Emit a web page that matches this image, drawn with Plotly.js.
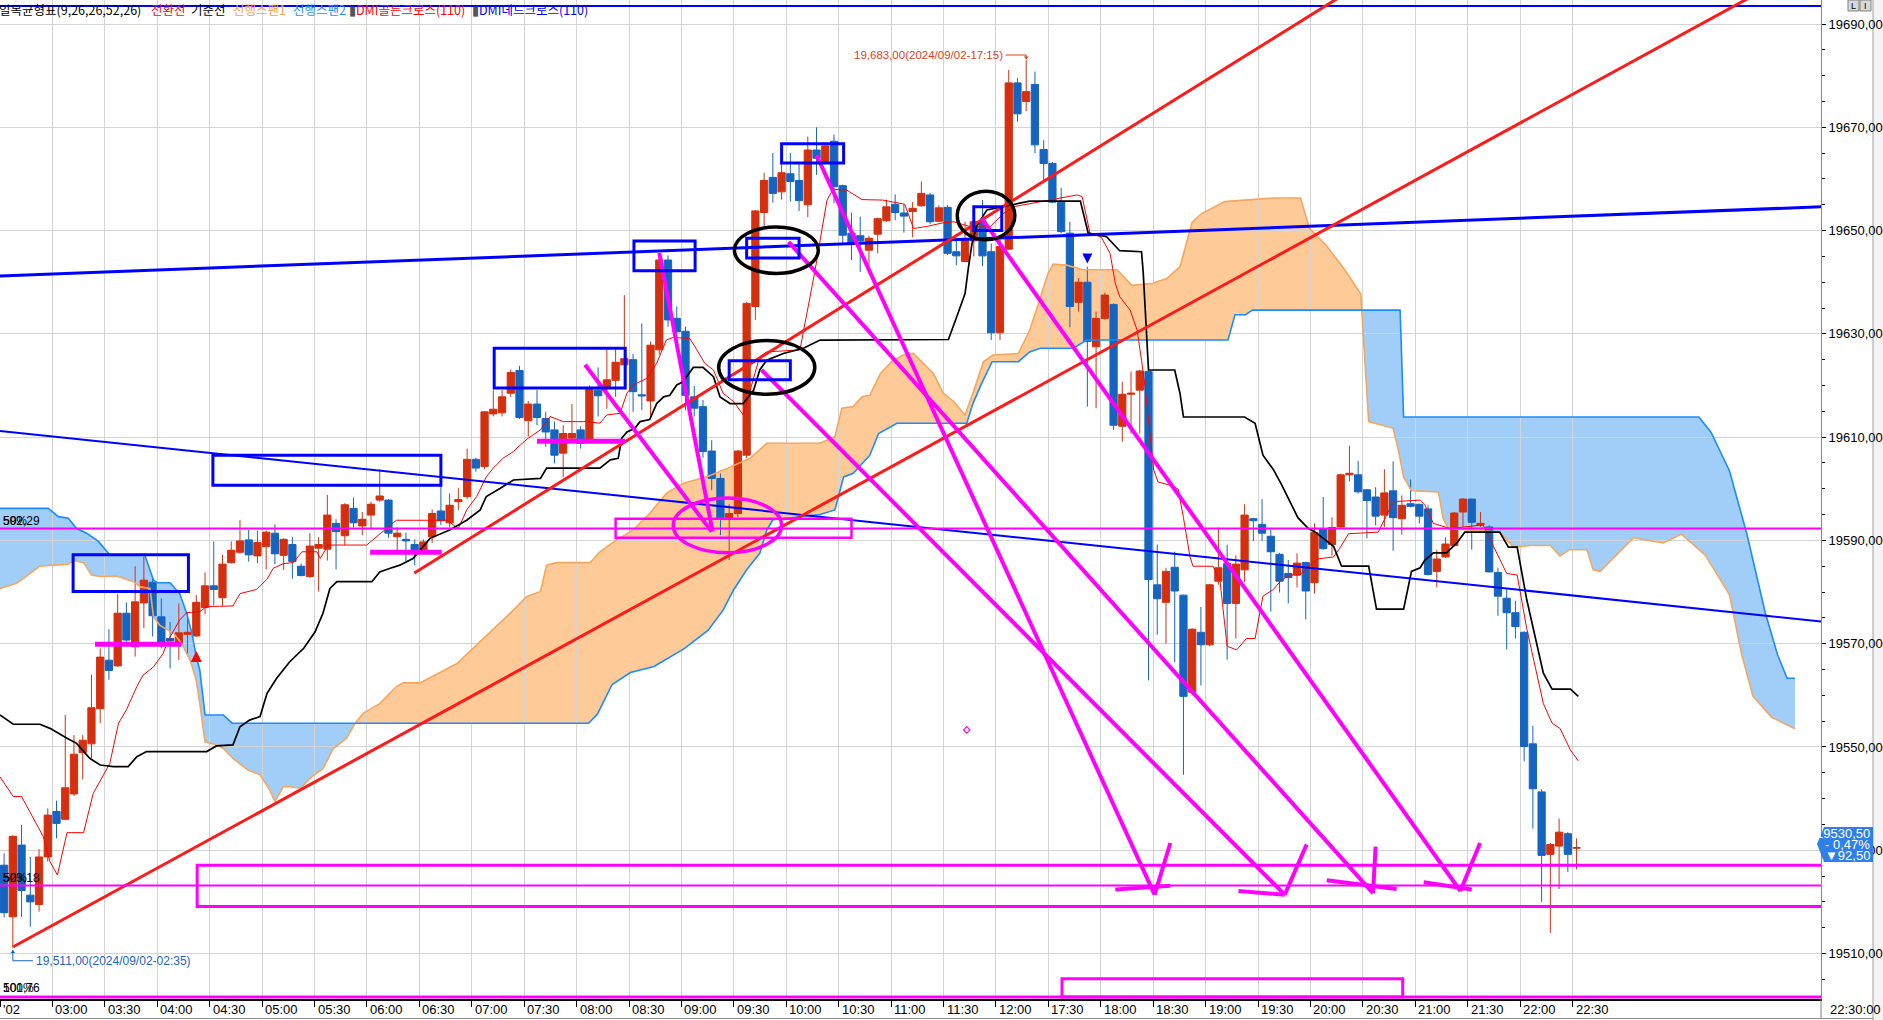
<!DOCTYPE html>
<html><head><meta charset="utf-8">
<script src="https://cdn.plot.ly/plotly-3.0.1.min.js"></script>
<style>html,body{margin:0;padding:0;background:#fff;overflow:hidden}#chart{width:1883px;height:1020px}</style>
</head><body><div id="chart"></div>
<script>
// ================= DATA (5-minute candles, index 0 = 02:30, 117 = 17:15, 180 = 22:30) =================
const candleOpen = [19527.1,19517.1,19531.0,19521.3,19519.5,19528.7,19537.5,19536.0,19540.9,19548.9,19550.6,19557.4,19566.8,19565.7,19575.9,19569.4,19577.9,19581.9,19575.2,19571.0,
19569.9,19571.8,19571.5,19577.0,19581.2,19578.9,19585.7,19587.7,19590.1,19587.0,19588.8,19591.4,19587.1,19589.2,19585.0,19583.0,19588.5,19588.3,19593.3,19590.9,
19596.2,19592.8,19594.9,19597.8,19597.8,19590.7,19590.2,19589.2,19588.2,19590.7,19595.7,19593.4,19597.5,19598.5,19605.7,19604.3,19614.5,19614.7,19618.5,19622.9,
19613.2,19616.4,19613.6,19611.4,19606.9,19609.8,19611.4,19609.6,19619.1,19619.8,19621.0,19624.0,19625.0,19618.2,19617.0,19626.9,19644.3,19633.0,19630.5,19617.8,
19615.9,19607.3,19602.0,19594.3,19595.2,19606.5,19635.3,19653.5,19660.3,19657.5,19661.0,19659.7,19655.0,19665.6,19663.3,19667.3,19658.7,19649.5,19649.0,19646.2,
19649.3,19651.9,19655.1,19653.4,19653.7,19654.8,19656.9,19651.8,19654.5,19645.9,19644.0,19648.0,19651.7,19645.9,19630.2,19646.4,19678.6,19675.0,19678.3,19665.7,
19663.0,19655.5,19649.5,19636.1,19640.0,19627.5,19633.0,19635.7,19612.1,19618.3,19619.1,19622.7,19581.4,19578.0,19584.8,19579.4,19560.6,19572.2,19569.8,19582.1,
19585.5,19577.8,19584.3,19594.2,19593.1,19590.8,19587.3,19583.6,19583.3,19585.7,19581.8,19592.2,19589.2,19592.6,19602.7,19602.7,19599.8,19598.4,19594.9,19599.6,
19594.2,19597.1,19597.0,19596.1,19584.0,19586.8,19589.0,19595.5,19598.0,19593.0,19592.6,19583.8,19578.8,19576.0,19572.2,19550.6,19541.3,19529.2,19530.8,19533.2,19530.4];
const candleHigh = [19529.4,19532.9,19534.9,19528.7,19530.2,19538.1,19539.6,19556.2,19552.3,19552.3,19564.0,19569.1,19572.8,19579.6,19578.0,19585.0,19586.8,19583.0,19578.8,19574.2,
19577.8,19575.9,19579.4,19583.8,19589.8,19587.2,19589.8,19593.9,19592.0,19591.9,19591.9,19593.1,19590.4,19590.7,19585.5,19591.4,19590.6,19598.8,19594.1,19597.2,
19598.3,19595.5,19597.5,19603.8,19598.0,19592.5,19591.5,19590.2,19590.2,19596.0,19601.0,19599.1,19600.1,19607.8,19606.0,19615.0,19619.1,19619.1,19623.1,19623.8,
19617.0,19619.1,19614.9,19613.0,19612.3,19616.4,19612.1,19620.0,19623.5,19627.0,19627.0,19637.5,19626.1,19632.0,19628.5,19645.0,19645.2,19635.3,19631.4,19619.9,
19617.2,19609.4,19603.0,19597.0,19607.5,19636.2,19654.0,19661.2,19665.0,19663.0,19665.0,19663.0,19668.2,19670.0,19667.0,19668.6,19658.9,19653.5,19652.7,19649.0,
19652.5,19656.0,19657.0,19655.1,19655.5,19659.5,19657.3,19654.9,19654.9,19648.2,19651.7,19652.0,19655.9,19647.5,19648.8,19681.1,19679.5,19683.0,19680.8,19667.5,
19663.3,19658.3,19651.7,19640.8,19643.0,19634.3,19638.0,19635.9,19620.7,19622.7,19623.0,19623.5,19589.2,19584.7,19587.8,19579.5,19573.0,19577.1,19581.6,19592.5,
19589.2,19587.1,19597.0,19594.4,19598.0,19592.3,19587.6,19586.2,19587.5,19585.9,19593.3,19598.4,19594.5,19602.9,19608.3,19605.4,19599.9,19600.3,19603.8,19605.3,
19598.7,19601.8,19597.1,19596.8,19588.2,19590.6,19595.5,19598.2,19598.1,19595.5,19592.9,19584.7,19580.5,19578.3,19572.4,19554.1,19541.8,19531.4,19536.1,19533.5,19532.3];
const candleLow = [19517.0,19511.0,19517.1,19515.2,19518.1,19527.8,19532.3,19535.8,19540.5,19543.7,19547.8,19554.6,19563.0,19565.5,19570.4,19567.5,19573.0,19571.4,19569.1,19565.2,
19566.8,19567.5,19571.3,19575.7,19577.4,19577.3,19585.5,19587.4,19585.9,19585.6,19584.4,19585.4,19584.3,19582.6,19583.0,19582.8,19580.1,19586.1,19584.4,19589.1,
19592.5,19591.0,19592.1,19597.5,19590.5,19588.1,19585.9,19585.2,19587.5,19589.5,19593.0,19592.5,19595.9,19598.0,19603.3,19603.8,19614.0,19614.0,19617.8,19613.5,
19610.1,19612.3,19608.1,19604.9,19602.3,19609.1,19607.8,19609.0,19614.0,19615.5,19617.8,19620.0,19614.9,19615.2,19614.0,19626.0,19631.4,19630.0,19615.2,19614.0,
19606.0,19599.7,19591.0,19586.2,19594.5,19605.9,19632.7,19650.7,19655.4,19656.0,19655.6,19653.8,19652.6,19660.8,19663.0,19655.3,19647.2,19644.3,19642.0,19643.0,
19645.6,19651.7,19652.0,19649.6,19648.7,19654.6,19651.3,19651.7,19645.3,19643.3,19644.0,19645.0,19643.1,19628.8,19628.8,19646.3,19671.1,19673.1,19665.0,19659.8,
19655.3,19649.5,19631.3,19634.3,19615.9,19615.6,19632.7,19611.4,19609.1,19610.7,19610.7,19562.9,19571.7,19570.0,19566.4,19544.6,19560.0,19561.9,19569.5,19581.4,
19566.9,19571.0,19581.9,19589.9,19589.9,19576.2,19579.9,19577.8,19580.9,19574.7,19579.7,19588.2,19587.1,19592.5,19601.4,19599.1,19590.4,19592.9,19592.6,19588.0,
19591.1,19596.4,19593.3,19583.2,19580.9,19586.6,19588.8,19592.6,19588.2,19592.6,19583.8,19575.4,19568.9,19571.0,19547.2,19534.2,19520.0,19514.0,19522.5,19525.8,19526.3];
const candleClose = [19517.9,19532.7,19522.2,19520.0,19528.7,19536.8,19535.2,19542.1,19548.6,19551.3,19557.6,19567.4,19564.8,19575.9,19570.7,19578.1,19582.3,19575.4,19570.3,19570.5,
19572.1,19572.2,19578.0,19581.2,19580.5,19585.4,19588.1,19589.9,19587.2,19589.6,19591.6,19587.4,19590.2,19585.9,19583.2,19588.9,19589.2,19594.9,19591.7,19596.9,
19593.4,19594.1,19597.0,19598.6,19591.4,19591.4,19589.9,19588.2,19589.7,19595.2,19593.8,19596.8,19597.9,19605.7,19604.0,19614.9,19615.4,19617.8,19622.5,19613.8,
19616.4,19613.8,19611.0,19606.5,19610.7,19610.7,19608.8,19619.3,19618.0,19621.1,19624.5,19625.2,19618.8,19618.0,19627.8,19644.3,19632.7,19630.4,19618.1,19615.6,
19607.2,19602.0,19594.3,19595.2,19607.3,19635.9,19653.8,19659.7,19657.2,19661.2,19659.5,19655.8,19665.6,19664.0,19666.4,19658.5,19649.1,19647.5,19648.0,19648.5,
19652.3,19654.6,19653.5,19652.8,19654.3,19657.2,19651.7,19654.4,19645.6,19645.1,19648.3,19651.7,19645.1,19630.2,19646.9,19678.6,19672.6,19676.9,19666.6,19663.0,
19655.5,19649.8,19635.3,19640.0,19628.5,19633.0,19637.5,19612.3,19618.3,19618.5,19622.8,19582.4,19578.7,19584.0,19580.2,19559.8,19572.8,19569.8,19581.4,19584.7,
19577.8,19585.4,19594.9,19593.8,19591.4,19587.8,19582.1,19582.8,19585.6,19580.2,19591.5,19588.4,19592.5,19602.7,19603.0,19599.4,19597.7,19594.7,19599.2,19594.4,
19596.8,19596.6,19594.7,19583.4,19586.4,19589.3,19595.3,19598.0,19593.5,19593.3,19583.9,19579.2,19576.0,19573.3,19550.1,19541.9,19529.0,19531.1,19533.5,19529.2,19530.5];

// x-axis ticks (candle index of each label) and labels
const tickIndex = [0,6,12,18,24,30,36,42,48,54,60,66,72,78,84,90,96,102,108,114,120,126,132,138,144,150,156,162,168,174,180];
const tickText = ["'02","03:00","03:30","04:00","04:30","05:00","05:30","06:00","06:30","07:00","07:30","08:00","08:30","09:00","09:30","10:00","10:30","11:00","11:30","12:00","17:30","18:00","18:30","19:00","19:30","20:00","20:30","21:00","21:30","22:00","22:30"];

// Ichimoku lines (x = candle index, y = price)
const tenkanX = [-0.47,1.05,2.0,3.35,4.5,5.25,6.1,7.2,9.1,10.2,12.1,13.1,14.0,15.2,15.9,17.1,18.2,18.8,20.1,20.9,22.4,23.2,26.2,27.0,28.9,30.1,30.8,31.96,33.1,34.1,35.8,36.2,37.1,41.5,42.65,44.9,50.7,52.0,52.95,54.1,55.2,56.0,57.1,58.3,59.1,60.0,61.4,62.5,64.0,66.7,68.2,69.0,70.5,71.3,72.0,73.6,74.7,75.8,76.6,78.5,79.3,80.2,81.2,82.3,83.5,84.2,84.6,85.4,86.5,87.3,91.1,91.9,92.8,93.6,94.2,94.9,96.5,98.2,100.6,103.1,104.1,105.6,107.5,108.7,110.9,112.9,114.4,115.5,122.8,123.4,124.3,125.6,126.6,127.2,127.7,128.9,129.7,130.2,130.6,131.6,132.1,133.7,134.4,135.0,135.75,136.1,138.4,139.2,140.0,141.1,142.2,143.2,144.1,145.3,146.2,147.2,148.3,150.3,152.2,152.9,153.9,157.3,158.3,159.0,162.1,162.6,163.6,165.5,169.3,170.7,172.0,173.2,174.3,176.2,177.2,178.1,179.3,180.2];
const tenkanY = [19544.2,19540.4,19540.4,19536.2,19532.6,19527.8,19525.2,19533.4,19533.4,19541.0,19546.8,19554.6,19557.2,19561.7,19563.9,19565.5,19568.1,19570.7,19574.6,19576.0,19576.2,19577.2,19577.3,19579.7,19580.5,19582.5,19584.6,19585.5,19585.7,19587.8,19587.8,19586.5,19589.1,19589.1,19590.7,19593.9,19593.9,19592.3,19595.9,19598.5,19602.3,19604.0,19605.9,19607.2,19608.5,19609.8,19611.4,19614.0,19613.0,19613.0,19612.7,19614.3,19614.6,19618.5,19620.1,19621.4,19624.3,19628.8,19629.3,19629.1,19626.9,19624.3,19623.0,19618.5,19616.9,19615.2,19614.3,19619.1,19625.6,19626.5,19626.9,19634.0,19642.0,19650.0,19655.9,19658.0,19657.8,19656.0,19655.9,19655.1,19650.4,19650.8,19651.5,19651.7,19650.6,19650.8,19653.3,19654.6,19656.9,19656.6,19649.5,19648.7,19645.6,19639.8,19637.2,19634.6,19630.7,19624.9,19619.8,19603.6,19601.3,19600.6,19599.9,19594.4,19586.8,19585.0,19585.0,19581.9,19569.5,19568.8,19571.0,19571.0,19579.2,19580.5,19582.3,19583.3,19583.3,19586.4,19586.8,19588.5,19591.3,19591.6,19595.1,19597.5,19597.8,19597.0,19593.3,19592.3,19593.0,19588.2,19583.6,19583.3,19572.9,19558.4,19554.6,19553.6,19549.4,19547.3];
const kijunX = [-0.47,1.05,4.1,5.25,7.2,8.3,9.8,11.0,12.5,14.2,15.2,16.3,23.2,24.3,26.2,27.0,28.1,29.3,30.1,31.2,32.7,34.3,35.6,36.5,37.3,38.1,42.1,43.0,44.2,45.3,46.8,48.75,51.0,52.95,54.5,55.2,56.8,58.3,61.4,62.1,68.2,69.4,70.3,70.7,71.3,72.2,72.8,73.9,74.7,75.5,76.2,77.0,77.7,78.9,80.0,81.2,81.95,83.1,84.6,85.8,86.5,87.3,89.2,91.5,93.4,108.1,109.05,110.0,110.4,110.8,111.3,112.5,115.1,117.4,123.2,124.1,126.2,127.7,130.2,130.4,131.0,134.0,134.6,135.0,142.0,143.2,144.1,145.3,146.2,147.2,148.1,149.3,150.1,152.2,153.1,156.2,157.1,160.2,161.1,162.1,162.6,163.6,165.1,166.3,167.2,171.2,172.2,173.2,174.3,176.2,177.2,179.3,180.2];
const kijunY = [19556.2,19554.4,19554.4,19553.6,19551.7,19550.7,19547.8,19546.5,19546.2,19546.2,19548.1,19549.1,19549.1,19550.2,19550.4,19553.9,19555.2,19555.9,19560.4,19563.3,19566.5,19569.1,19572.3,19575.9,19580.7,19582.0,19582.0,19583.9,19584.6,19585.2,19586.5,19590.4,19592.0,19593.9,19595.9,19598.5,19600.1,19601.7,19602.0,19604.0,19604.0,19605.6,19605.9,19609.8,19611.0,19611.7,19613.0,19613.4,19616.5,19617.8,19618.1,19620.1,19620.7,19623.5,19623.5,19621.7,19617.8,19616.5,19616.5,19619.1,19623.0,19624.9,19626.2,19627.2,19628.8,19628.9,19633.3,19637.8,19643.0,19647.5,19650.8,19654.0,19654.9,19655.7,19655.7,19649.5,19648.8,19646.1,19645.9,19641.7,19623.0,19623.0,19618.5,19613.9,19613.9,19612.7,19606.5,19603.7,19600.9,19597.5,19594.4,19592.3,19591.6,19588.8,19585.0,19585.0,19576.7,19576.7,19584.0,19584.7,19586.1,19587.6,19587.6,19589.5,19591.6,19591.6,19588.7,19588.7,19578.5,19564.3,19561.2,19561.2,19559.8];
const span1X = [-0.47,1.44,4.1,7.35,7.9,9.1,10.0,11.0,12.9,14.8,15.6,16.7,17.1,17.8,19.4,20.3,21.3,22.0,22.4,23.0,24.3,25.1,26.2,27.95,29.3,30.4,31.0,31.96,32.7,33.9,35.2,36.5,37.7,39.2,40.2,41.1,43.0,44.9,45.7,47.6,51.8,55.9,58.3,59.8,61.4,62.1,63.3,67.1,68.2,70.1,72.0,73.9,75.8,77.7,80.4,82.7,85.4,87.3,93.4,95.1,95.9,97.2,98.2,99.1,100.3,101.6,102.9,104.1,105.4,106.4,107.5,108.7,110.0,110.9,112.1,113.2,116.1,117.4,118.4,119.5,120.1,121.6,123.5,127.4,129.1,131.5,133.1,134.6,136.0,137.0,139.7,145.3,148.4,149.4,151.4,153.5,155.3,156.0,156.2,159.0,159.6,160.2,161.1,164.2,164.7,165.3,171.2,172.8,174.7,177.0,178.1,179.2,181.2,181.9,182.7,186.5,189.9,192.0,194.7,197.5,198.9,200.2,202.3,205.0];
const span1Y = [19580.7,19581.7,19585.0,19585.4,19586.1,19585.7,19583.3,19583.0,19583.1,19582.0,19581.0,19580.7,19575.2,19573.6,19572.0,19570.1,19566.8,19562.9,19558.4,19551.0,19550.4,19549.7,19547.8,19545.5,19544.6,19541.7,19539.4,19542.3,19542.3,19542.0,19544.2,19545.8,19549.7,19551.7,19554.6,19556.5,19558.4,19561.7,19562.4,19562.4,19566.1,19572.6,19576.5,19579.1,19580.1,19585.2,19585.7,19585.7,19587.8,19590.1,19592.0,19595.2,19599.1,19601.0,19602.3,19603.9,19605.9,19608.8,19608.8,19610.1,19615.6,19615.9,19617.8,19618.1,19622.3,19624.6,19625.9,19626.2,19623.9,19622.3,19618.5,19616.9,19614.3,19618.5,19624.6,19625.9,19626.2,19630.7,19635.9,19641.7,19643.5,19643.3,19642.4,19642.4,19639.4,19639.8,19640.7,19643.0,19651.6,19653.2,19655.6,19656.3,19656.3,19650.5,19647.0,19642.3,19637.7,19617.2,19613.0,19611.7,19607.5,19602.3,19599.6,19599.4,19594.4,19592.3,19591.6,19588.7,19589.0,19589.0,19587.0,19588.2,19588.2,19584.3,19584.0,19590.5,19589.5,19591.2,19587.2,19579.5,19567.9,19559.8,19555.8,19553.5];
const span2X = [-0.47,5.06,6.2,7.35,8.3,9.45,10.8,11.7,12.1,16.1,17.1,17.5,19.0,20.1,20.9,21.5,22.0,22.4,23.0,25.1,26.1,66.9,67.9,69.6,71.7,74.4,77.9,80.6,82.3,83.5,85.0,86.5,87.3,88.0,93.4,95.1,96.1,97.2,99.1,100.1,101.4,102.2,110.2,110.9,111.9,113.1,116.1,117.4,118.6,122.4,123.9,140.1,140.9,142.1,142.9,159.8,160.2,194.0,195.4,197.5,199.5,201.6,203.0,204.1,205.0];
const span2Y = [19596.2,19596.2,19594.6,19594.3,19592.3,19591.4,19589.8,19588.1,19587.2,19587.2,19582.3,19581.8,19581.8,19579.7,19575.9,19572.0,19567.5,19564.9,19556.2,19556.2,19554.6,19554.6,19556.3,19562.1,19564.4,19565.6,19569.1,19572.6,19576.5,19580.4,19584.3,19587.5,19592.0,19594.0,19595.0,19595.9,19602.3,19603.0,19606.5,19610.7,19612.0,19612.7,19612.7,19616.5,19620.4,19624.6,19624.6,19626.5,19627.2,19627.2,19628.8,19628.8,19633.7,19633.7,19634.6,19634.6,19613.9,19613.9,19610.9,19603.5,19591.2,19576.0,19567.9,19563.3,19563.3];
const cloudBreaks = [-0.47, 40.2, 155.4, 205.0];   // where span1 and span2 cross
const cloudKinds  = ['span2Above', 'span1Above', 'span2Above'];

// drawn objects (candle index, price)
const blueBoxes = [[7.9,21.1,19580.1,19587.2],[23.9,50.0,19600.7,19606.5],[56.1,71.1,19619.5,19627.2],[72.1,79.1,19642.2,19648.0],[83.0,90.0,19621.1,19624.8],[85.0,91.0,19644.7,19648.5],[89.0,96.1,19663.1,19666.8],[111.0,114.2,19650.0,19654.6]];
const blackEllipses = [[83.6,93.2,19641.7,19650.7],[81.8,92.8,19618.3,19628.7],[109.1,115.7,19648.2,19657.6]];
const magentaEllipse = [76.6,89.0,19587.6,19598.2];
const magentaBoxes = [[70.0,97.0,19590.5,19594.2],[22.1,215,19519.1,19527.1],[121.1,160.1,19501.6,19505.1]];
const magentaLevels = [19592.29, 19523.18, 19501.6];
const magentaShort = [[10.4,20.3,19569.9],[41.9,50.1,19587.7],[61.0,71.1,19609.2]];
const magentaArrows = [[66.5,19624.0,81.0,19591.7],[75.0,19645.7,81.1,19591.7],[93.0,19664.6,131.7,19521.4],[86.7,19623.0,146.6,19521.4],[89.8,19647.8,156.7,19521.7],[111.9,19652.4,166.7,19522.1],
  [127.2,19522.4,133.5,19523.1],[131.7,19521.4,133.5,19531.4],[141.3,19522.1,146.6,19521.4],[146.6,19521.4,149.1,19531.1],[151.4,19524.2,159.4,19522.5],[156.7,19521.7,157.0,19530.7],[162.5,19523.8,168.0,19522.4],[166.7,19522.1,168.96,19531.4]];
const blueLines = [[-1,19693.5,210,19693.5,2],[-0.47,19641.2,208,19654.6,3],[-0.47,19611.2,208,19574.3,2]];
const redLines = [[1.05,19511.3,208,19702.7],[46.96,19583.7,159.8,19702.5]];
const highPoint = {i:117, v:19683.0, label:'19,683,00(2024/09/02-17:15)'};
const lowPoint  = {i:1,   v:19511.0, label:'19,511,00(2024/09/02-02:35)'};
const goldenCross = {i:22, v:19568.6};
const deadCross = {i:124, v:19643.6};
const diamondMark = {i:110.2, v:19553.3};
const lastPrice = ['19530,50','- 0,47%','\u25BC92,50'];

// ================= BUILD =================
const N = candleOpen.length;
const idx = candleOpen.map((_, k) => k);
const XR = [-0.469, 207.98], YR = [19501.19, 19694.65];
const PW = 1821, PH = 999;
const px = p => p / PW, py = p => 1 - p / PH;
const SANS = 'Liberation Sans, Arial, sans-serif';
const NARROW = 'Liberation Sans Narrow, Liberation Sans, Arial, sans-serif';
const KR = 'Noto Sans CJK KR, sans-serif';

function interp(xs, ys, x) {
  for (let k = 0; k < xs.length - 1; k++) {
    if (x >= xs[k] && x <= xs[k + 1]) { const t = (x - xs[k]) / ((xs[k + 1] - xs[k]) || 1); return ys[k] + t * (ys[k + 1] - ys[k]); }
  }
  return x < xs[0] ? ys[0] : ys[ys.length - 1];
}
function segPts(xs, ys, a, b) {
  const p = [[a, interp(xs, ys, a)]];
  for (let k = 0; k < xs.length; k++) if (xs[k] > a && xs[k] < b) p.push([xs[k], ys[k]]);
  p.push([b, interp(xs, ys, b)]);
  return p;
}
const shapes = [];
for (let s = 0; s < cloudKinds.length; s++) {
  const a = cloudBreaks[s], b = cloudBreaks[s + 1];
  const p1 = segPts(span1X, span1Y, a, b), p2 = segPts(span2X, span2Y, a, b).reverse();
  const pts = p1.concat(p2);
  const path = 'M ' + pts.map(q => q[0] + ',' + q[1]).join(' L ') + ' Z';
  shapes.push({type:'path', xref:'x', yref:'y', path, fillcolor: cloudKinds[s] === 'span2Above' ? '#a0cef9' : '#fdca98', line:{width:0}, layer:'below'});
}
blueLines.forEach(l => shapes.push({type:'line', xref:'x', yref:'y', x0:l[0], y0:l[1], x1:l[2], y1:l[3], line:{color:'#0000ff', width:l[4]}}));
redLines.forEach(l => shapes.push({type:'line', xref:'x', yref:'y', x0:l[0], y0:l[1], x1:l[2], y1:l[3], line:{color:'#ff1a1a', width:3}}));
magentaLevels.forEach((v, k) => shapes.push({type:'line', xref:'x', yref:'y', x0:XR[0]-1, x1:XR[1]+1, y0:v, y1:v, line:{color:'#ff00ff', width: k === 2 ? 3 : 2}}));
magentaShort.forEach(l => shapes.push({type:'line', xref:'x', yref:'y', x0:l[0], x1:l[1], y0:l[2], y1:l[2], line:{color:'#ff00ff', width:5}}));
magentaArrows.forEach(l => shapes.push({type:'line', xref:'x', yref:'y', x0:l[0], y0:l[1], x1:l[2], y1:l[3], line:{color:'#ff00ff', width:4}}));
blueBoxes.forEach(r => shapes.push({type:'rect', xref:'x', yref:'y', x0:r[0], x1:r[1], y0:r[2], y1:r[3], line:{color:'#0000ff', width:3}, fillcolor:'rgba(0,0,0,0)'}));
magentaBoxes.forEach((r, k) => shapes.push({type:'rect', xref:'x', yref:'y', x0:r[0], x1:r[1], y0:r[2], y1:r[3], line:{color:'#ff00ff', width: k === 0 ? 2.5 : 3}, fillcolor:'rgba(0,0,0,0)'}));
blackEllipses.forEach(r => shapes.push({type:'circle', xref:'x', yref:'y', x0:r[0], x1:r[1], y0:r[2], y1:r[3], line:{color:'#000000', width:3.5}}));
shapes.push({type:'circle', xref:'x', yref:'y', x0:magentaEllipse[0], x1:magentaEllipse[1], y0:magentaEllipse[2], y1:magentaEllipse[3], line:{color:'#ff00ff', width:3.5}});
shapes.push({type:'line', xref:'x', yref:'y', x0:highPoint.i - 2.35, x1:highPoint.i, y0:highPoint.v + 1.0, y1:highPoint.v + 1.0, line:{color:'#e0401e', width:1}});
shapes.push({type:'line', xref:'x', yref:'y', x0:highPoint.i, x1:highPoint.i, y0:highPoint.v + 1.0, y1:highPoint.v + 0.2, line:{color:'#e0401e', width:1}});
shapes.push({type:'line', xref:'x', yref:'y', x0:lowPoint.i, x1:lowPoint.i + 2.3, y0:lowPoint.v - 2.4, y1:lowPoint.v - 2.4, line:{color:'#1e64c8', width:1}});
shapes.push({type:'line', xref:'x', yref:'y', x0:lowPoint.i, x1:lowPoint.i, y0:lowPoint.v - 2.4, y1:lowPoint.v - 0.3, line:{color:'#1e64c8', width:1}});
shapes.push({type:'rect', xref:'paper', yref:'paper', x0:px(1873), x1:px(1884), y0:py(1021), y1:py(-1), fillcolor:'#f3f3f3', line:{color:'#a0a0a0', width:1}, layer:'below'});
shapes.push({type:'line', xref:'paper', yref:'paper', x0:px(1821), x1:px(1821), y0:py(999), y1:py(1019), line:{color:'#808080', width:1}});
shapes.push({type:'line', xref:'paper', yref:'paper', x0:0, x1:px(1873), y0:py(1018.5), y1:py(1018.5), line:{color:'#909090', width:1}});
shapes.push({type:'rect', xref:'paper', yref:'paper', x0:px(1848), x1:px(1859), y0:py(11), y1:py(0), fillcolor:'#d8d8d8', line:{color:'#808080', width:1}});
shapes.push({type:'rect', xref:'paper', yref:'paper', x0:px(1860), x1:px(1871), y0:py(11), y1:py(0), fillcolor:'#d8d8d8', line:{color:'#808080', width:1}});
shapes.push({type:'path', xref:'paper', yref:'paper', path:`M ${px(1817)},${py(844)} L ${px(1824)},${py(827)} L ${px(1873)},${py(827)} L ${px(1873)},${py(862)} L ${px(1824)},${py(862)} Z`, fillcolor:'#2f7fe6', line:{width:0}});

const traces = [
  {type:'scatter', x:span1X, y:span1Y, mode:'lines', line:{color:'#f7a65e', width:1.6}, hoverinfo:'skip'},
  {type:'scatter', x:span2X, y:span2Y, mode:'lines', line:{color:'#1a8cff', width:1.6}, hoverinfo:'skip'},
  {type:'candlestick', x:idx, open:candleOpen, high:candleHigh, low:candleLow, close:candleClose, whiskerwidth:0,
    increasing:{line:{color:'#d4300f', width:1}, fillcolor:'#d4300f'},
    decreasing:{line:{color:'#1565c0', width:1}, fillcolor:'#1565c0'}, hoverinfo:'skip'},
  {type:'scatter', x:tenkanX, y:tenkanY, mode:'lines', line:{color:'#ff0000', width:1}, hoverinfo:'skip'},
  {type:'scatter', x:kijunX, y:kijunY, mode:'lines', line:{color:'#000000', width:1.7}, hoverinfo:'skip'},
  {type:'scatter', x:[goldenCross.i], y:[goldenCross.v], mode:'markers', marker:{symbol:'arrow-up', size:11, color:'#ff0000', line:{width:0}}, hoverinfo:'skip'},
  {type:'scatter', x:[deadCross.i], y:[deadCross.v], mode:'markers', marker:{symbol:'arrow-down', size:10, color:'#0000ff', line:{width:0}}, hoverinfo:'skip'},
  {type:'scatter', x:[diamondMark.i], y:[diamondMark.v], mode:'markers', marker:{symbol:'diamond-open', size:5, color:'#ff00ff', line:{width:1.2}}, hoverinfo:'skip'},
  {type:'scatter', x:[highPoint.i], y:[highPoint.v + 0.5], mode:'markers', marker:{symbol:'triangle-down', size:4, color:'#e0401e'}, hoverinfo:'skip'},
  {type:'scatter', x:[lowPoint.i], y:[lowPoint.v - 0.7], mode:'markers', marker:{symbol:'triangle-up', size:4, color:'#1e64c8'}, hoverinfo:'skip'}
];

const ann = [];
tickIndex.forEach((t, k) => ann.push({xref:'x', yref:'paper', x:t - 0.35, y:py(1009), text:tickText[k], showarrow:false, xanchor:'left', yanchor:'middle', font:{family:NARROW, size:13, color:'#000'}}));
ann.push({xref:'paper', yref:'paper', x:px(1828), y:py(1009), text:'22:30:00', showarrow:false, xanchor:'left', yanchor:'middle', font:{family:NARROW, size:13, color:'#000'}});
const legendItems = [['일목균형표(9,26,26,52,26)',-2,'#000000'],['전환선',150,'#ff0000'],['기준선',190,'#000000'],['선행스팬1',232,'#f8a050'],['선행스팬2',292,'#1e90ff'],['▮',348,'#555555'],['DMI골든크로스(110)',355,'#ff0000'],['▮',471,'#555555'],['DMI데드크로스(110)',478,'#0000ff']];
legendItems.forEach(it => ann.push({xref:'paper', yref:'paper', x:px(it[1]), y:py(-1), text:it[0], showarrow:false, xanchor:'left', yanchor:'top', borderpad:0, font:{family:KR, size:12.5, color:it[2]}}));
ann.push({xref:'x', yref:'y', x:highPoint.i - 2.4, y:highPoint.v + 1.0, text:highPoint.label, showarrow:false, xanchor:'right', yanchor:'middle', font:{family:SANS, size:11.5, color:'#e0401e'}});
ann.push({xref:'x', yref:'y', x:lowPoint.i + 2.4, y:lowPoint.v - 2.4, text:lowPoint.label, showarrow:false, xanchor:'left', yanchor:'middle', font:{family:SANS, size:12, color:'#1e64c8'}});
[['50%','592,29',19593.8],['50%','523,18',19524.7],['100%','501,76',19503.4]].forEach(l => {
  ann.push({xref:'paper', yref:'y', x:0.0008, y:l[2], text:l[0], showarrow:false, xanchor:'left', yanchor:'middle', font:{family:SANS, size:12, color:'#000'}});
  ann.push({xref:'paper', yref:'y', x:0.0008, y:l[2], text:l[1], showarrow:false, xanchor:'left', yanchor:'middle', font:{family:SANS, size:12, color:'#000'}});
});
lastPrice.forEach((t, k) => ann.push({xref:'paper', yref:'paper', x:px(1871), y:py(833.5 + k * 11.2), text:t, showarrow:false, xanchor:'right', yanchor:'middle', borderpad:0, font:{family:NARROW, size:13, color:'#ffffff'}}));
ann.push({xref:'paper', yref:'paper', x:px(1853.5), y:py(5.5), text:'L', showarrow:false, xanchor:'center', yanchor:'middle', font:{family:SANS, size:9, color:'#000'}});
ann.push({xref:'paper', yref:'paper', x:px(1865.5), y:py(5.5), text:'I', showarrow:false, xanchor:'center', yanchor:'middle', font:{family:SANS, size:9, color:'#000'}});

const layout = {
  width:1883, height:1020, margin:{l:0, r:62, t:0, b:21}, paper_bgcolor:'#ffffff', plot_bgcolor:'#ffffff',
  showlegend:false, hovermode:false, separators:',.', boxgap:0.17, boxgroupgap:0,
  xaxis:{range:XR, rangeslider:{visible:false}, tickmode:'array', tickvals:tickIndex.map(t => t - 0.46), showticklabels:false,
    ticks:'outside', ticklen:6, tickcolor:'#000', showgrid:true, gridcolor:'#d4d4d4', gridwidth:1, zeroline:false,
    showline:true, linecolor:'#000', linewidth:1.5, fixedrange:true},
  yaxis:{range:YR, side:'right', tickmode:'linear', tick0:19510, dtick:20, tickformat:'.2f', ticks:'outside', ticklen:4, tickcolor:'#000',
    minor:{tickmode:'linear', tick0:19500, dtick:5, ticks:'outside', ticklen:3, tickcolor:'#000', showgrid:false},
    showgrid:true, gridcolor:'#d4d4d4', gridwidth:1, zeroline:false, showline:true, linecolor:'#888', linewidth:1,
    tickfont:{family:NARROW, size:13, color:'#000'}, fixedrange:true},
  shapes, annotations:ann
};
Plotly.newPlot('chart', traces, layout, {displayModeBar:false, staticPlot:true});
</script></body></html>
